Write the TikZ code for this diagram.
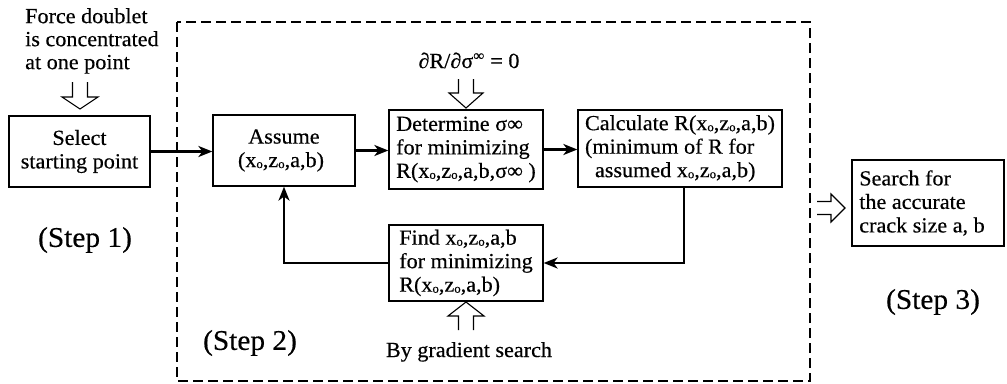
\documentclass[tikz,border=0pt]{standalone}
\usepackage{fontspec}
\setmainfont{Liberation Serif}[FakeStretch=1.03,FakeBold=0.4]
\usetikzlibrary{arrows.meta}
\newcommand\osub{\raisebox{-1pt}{\fontsize{12.5}{12.5}\selectfont o}}
\newcommand\xsub{x\osub}
\newcommand\zsub{z\osub}
\begin{document}
\begin{tikzpicture}[x=1pt,y=-1pt,
  box/.style={draw,line width=1.2pt,inner sep=0pt,align=center,font=\fontsize{21.5}{23.5}\selectfont},
  conn/.style={line width=2.2pt,-{Stealth[length=14pt,width=11pt,inset=4pt]}},
  hollow/.style={line width=1.1pt,line join=miter},
  frame/.style={line width=1.1pt,dash pattern=on 10pt off 5pt},
  steplabel/.style={font=\fontsize{28.5}{30}\selectfont,inner sep=0pt},
  plain/.style={font=\fontsize{21.5}{23}\selectfont,inner sep=0pt}]
\useasboundingbox (0,0) rectangle (1007,383);

% dashed frame of step 2
\draw[frame] (177,22) rectangle (810,381);

% text above step 1
\node[plain,align=left,anchor=north west] (force) at (25,8) {Force doublet\\is concentrated\\at one point};

% boxes
\node[box,minimum width=141pt,minimum height=71pt] (sel) at (79.5,151.5) {Select\\starting point};
\node[box,minimum width=142pt,minimum height=71pt] (asm) at (284,150.5) {Assume\\(\xsub,\zsub,a,b)\hspace*{6pt}};
\node[box,align=left,minimum width=154pt,minimum height=79pt] (det) at (466,149.5) {Determine σ∞\\for minimizing\\R(\xsub,\zsub,a,b,σ∞ )};
\node[box,align=left,minimum width=204pt,minimum height=77pt] (cal) at (680,148.5) {Calculate R(\xsub,\zsub,a,b)\\(minimum of R for\\\hspace*{10pt}assumed \xsub,\zsub,a,b)};
\node[box,align=left,minimum width=154pt,minimum height=76pt] (find) at (466,263) {Find \xsub,\zsub,a,b\\for minimizing\\R(\xsub,\zsub,a,b)};
\node[box,align=left,minimum width=152pt,minimum height=86pt] (search) at (928,203) {Search for\\the accurate\\crack size a, b\hspace*{12pt}};

% other texts
\node[plain,anchor=base] (cond) at (469,68) {∂R/∂σ\textsuperscript{∞} = 0};
\node[plain,anchor=base] (grad) at (469,357) {By gradient search};
\node[steplabel] (s1) at (85,240) {(Step 1)};
\node[steplabel] (s2) at (250,343) {(Step 2)};
\node[steplabel] (s3) at (933,302) {(Step 3)};

% connectors
\draw[conn] (sel.east) -- (sel.east -| asm.west);
\draw[conn] (asm.east) -- (asm.east -| det.west);
\draw[conn] (det.east) -- (det.east -| cal.west);
\draw[conn] ([xshift=4pt]cal.south) |- (find.east);
\draw[conn] (find.west) -| (asm.south);

% hollow block arrows
\draw[hollow] (72.5,82) -- (72.5,97) -- (62,97) -- (80,109) -- (98,97) -- (87.5,97) -- (87.5,82);
\draw[hollow] (458.5,79) -- (458.5,93) -- (449,93) -- (466,108) -- (483,93) -- (473.5,93) -- (473.5,79);
\draw[hollow] (458.5,330) -- (458.5,316) -- (448,316) -- (466,302) -- (484,316) -- (473.5,316) -- (473.5,330);
\draw[hollow] (817,201.5) -- (831,201.5) -- (831,194) -- (845,208) -- (831,222) -- (831,214.5) -- (817,214.5);
\end{tikzpicture}
\end{document}
